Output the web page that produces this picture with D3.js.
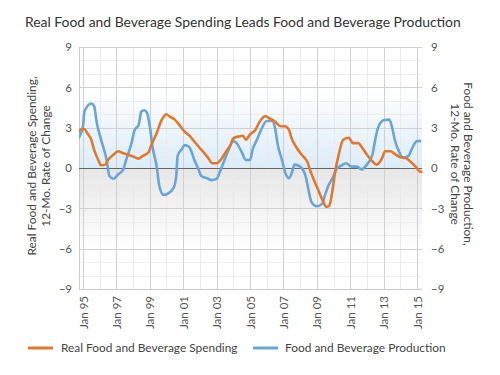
<!DOCTYPE html>
<html><head><meta charset="utf-8">
<script src="https://cdn.jsdelivr.net/npm/d3@7"></script>
<style>
body{margin:0;background:#fff;}
svg{display:block;font-family:Lato,"Open Sans",sans-serif;}
</style></head>
<body><svg id="c" width="500" height="375"></svg>
<script>
// ---- data ----
const titleText = "Real Food and Beverage Spending Leads Food and Beverage Production";
const leftTitle = ["Real Food and Beverage Spending,", "12-Mo. Rate of Change"];
const rightTitle = ["Food and Beverage Production,", "12-Mo. Rate of Change"];
const seriesNames = ["Real Food and Beverage Spending", "Food and Beverage Production"];
const yTicks = [-9, -6, -3, 0, 3, 6, 9];
const xTickYears = [1995, 1997, 1999, 2001, 2003, 2005, 2007, 2009, 2011, 2013, 2015];

const spendDates = ["1994-09","1994-11","1995-02","1995-04","1995-07","1995-09","1995-12","1996-02","1996-05","1996-07","1996-11",
 "1997-02","1997-06","1997-09","1998-01","1998-05","1998-08","1998-12","1999-02","1999-06","1999-09","2000-01","2000-03",
 "2000-07","2000-11","2001-02","2001-06","2001-08","2001-12","2002-03","2002-07","2002-10","2003-01","2003-05","2003-08",
 "2003-11","2004-01","2004-05","2004-08","2004-10","2005-01","2005-05","2005-08","2005-12","2006-03","2006-07","2006-11",
 "2007-02","2007-05","2007-07","2007-10","2008-02","2008-06","2008-09","2009-01","2009-05","2009-08","2009-10","2009-12",
 "2010-02","2010-05","2010-08","2010-12","2011-03","2011-07","2011-09","2012-01","2012-05","2012-08","2012-12","2013-02",
 "2013-06","2013-09","2014-01","2014-05","2014-08","2014-12","2015-03","2015-05"];
const spendValues = [2.5,2.85,2.9,2.6,2.1,1.35,0.6,0.2,0.25,0.6,1.0,
 1.25,1.1,1.0,0.85,0.7,0.9,1.15,1.7,2.6,3.45,4.0,3.85,
 3.6,3.1,2.7,2.35,2.1,1.6,1.25,0.75,0.35,0.35,0.75,1.25,
 1.7,2.2,2.35,2.4,2.1,2.5,2.85,3.45,3.85,3.7,3.45,3.1,
 3.1,2.85,2.2,1.6,1.0,0.5,-0.4,-1.4,-2.35,-2.9,-2.8,-1.85,
 -0.4,1.1,2.1,2.25,1.85,1.85,1.6,1.0,0.5,0.25,0.75,1.25,
 1.25,1.05,0.8,0.75,0.5,0.1,-0.25,-0.3];

const prodDates = ["1994-09","1995-01","1995-02","1995-07","1995-09","1995-11","1996-02","1996-06","1996-08","1996-11",
 "1997-02","1997-06","1997-08","1997-12","1998-02","1998-05","1998-07","1998-09","1998-11","1999-01","1999-03","1999-06",
 "1999-08","1999-11","2000-02","2000-06","2000-08","2000-09","2000-12","2001-02","2001-05","2001-07","2001-09","2001-12",
 "2002-02","2002-06","2002-09","2003-01","2003-03","2003-06","2003-09","2004-01","2004-03","2004-07","2004-10","2005-01",
 "2005-03","2005-06","2005-09","2006-01","2006-05","2006-07","2006-09","2006-12","2007-02","2007-05","2007-07","2007-09",
 "2008-01","2008-05","2008-07","2008-09","2009-01","2009-05","2009-07","2009-09","2010-01","2010-03","2010-07","2010-10",
 "2011-02","2011-06","2011-09","2012-01","2012-05","2012-07","2012-09","2013-01","2013-05","2013-07","2013-09","2013-12",
 "2014-03","2014-07","2014-09","2015-01","2015-04"];
const prodValues = [2.1,3.1,4.2,4.8,4.6,3.3,2.1,0.6,-0.6,-0.8,
 -0.5,-0.1,0.6,1.9,2.8,3.2,4.2,4.3,4.1,3.1,1.6,0.1,
 -1.4,-2.0,-1.9,-1.5,-0.6,0.9,1.4,1.7,1.6,1.2,0.6,-0.1,
 -0.6,-0.75,-0.9,-0.8,-0.4,0.4,1.2,2.0,1.9,1.2,0.6,0.6,
 1.4,2.1,2.85,3.5,3.5,3.0,1.7,0.6,-0.25,-0.75,-0.4,0.25,
 0.1,-0.6,-1.6,-2.5,-2.85,-2.65,-2.0,-1.4,-0.6,-0.1,0.2,0.35,
 0.1,0.1,-0.1,0.25,1.0,2.1,3.0,3.55,3.6,3.1,2.1,1.25,
 0.75,0.9,1.35,2.0,2.0];

const colors = ["#E0792F", "#6AA5D6"];

// ---- layout ----
const svg = d3.select("#c");
const L = 79, R = 422, T = 47, B = 289;
const parse = d3.timeParse("%Y-%m");
const x = d3.scaleTime().domain([new Date(1995,0,1), new Date(2015,0,1)]).range([83, 417]);
const y = d3.scaleLinear().domain([-9, 9]).range([B, T]);

const defs = svg.append("defs");
const gUp = defs.append("linearGradient").attr("id","gup").attr("x1",0).attr("y1",1).attr("x2",0).attr("y2",0);
gUp.append("stop").attr("offset","0%").attr("stop-color","#dcecf8");
gUp.append("stop").attr("offset","100%").attr("stop-color","#ffffff");
const gDn = defs.append("linearGradient").attr("id","gdn").attr("x1",0).attr("y1",0).attr("x2",0).attr("y2",1);
gDn.append("stop").attr("offset","0%").attr("stop-color","#e6e6e6");
gDn.append("stop").attr("offset","100%").attr("stop-color","#ffffff");
defs.append("clipPath").attr("id","clip").append("rect").attr("x",L).attr("y",T-5).attr("width",R-L+2).attr("height",B-T+10);

svg.append("rect").attr("x",L).attr("y",y(6)).attr("width",R-L).attr("height",y(0)-y(6)).attr("fill","url(#gup)");
svg.append("rect").attr("x",L).attr("y",y(0)).attr("width",R-L).attr("height",y(-6)-y(0)).attr("fill","url(#gdn)");

// minor grid
const minorY = d3.range(-9, 10, 1).filter(v => v % 3 !== 0);
svg.append("g").selectAll("line").data(minorY).join("line")
  .attr("x1",L).attr("x2",R).attr("y1",d=>Math.round(y(d))+0.5).attr("y2",d=>Math.round(y(d))+0.5)
  .attr("stroke","#eeeeee").attr("stroke-width",1);
const minorX = d3.range(1995, 2016).filter(v => (v - 1995) % 2 === 1).map(v => new Date(v,0,1));
svg.append("g").selectAll("line").data(minorX).join("line")
  .attr("x1",d=>Math.round(x(d))+0.5).attr("x2",d=>Math.round(x(d))+0.5).attr("y1",T).attr("y2",B)
  .attr("stroke","#eaeaea").attr("stroke-width",1);

// major grid
svg.append("g").selectAll("line").data(yTicks.filter(v=>v!==0)).join("line")
  .attr("x1",L).attr("x2",R).attr("y1",d=>Math.round(y(d))+0.5).attr("y2",d=>Math.round(y(d))+0.5)
  .attr("stroke","#d0d0d0").attr("stroke-width",1);
const xTickDates = xTickYears.map(v => new Date(v,0,1));
svg.append("g").selectAll("line").data(xTickDates).join("line")
  .attr("x1",d=>Math.round(x(d))+0.5).attr("x2",d=>Math.round(x(d))+0.5).attr("y1",T).attr("y2",B)
  .attr("stroke","#d0d0d0").attr("stroke-width",1);
svg.append("line").attr("x1",L+0.5).attr("x2",L+0.5).attr("y1",T).attr("y2",B).attr("stroke","#cccccc");

// axes
const yl = svg.append("g").attr("transform",`translate(${L},0)`)
  .call(d3.axisLeft(y).tickValues(yTicks).tickSize(0).tickPadding(7));
const yr = svg.append("g").attr("transform",`translate(${R},0)`)
  .call(d3.axisRight(y).tickValues(yTicks).tickSize(0).tickPadding(9));
[yl, yr].forEach(g => {
  g.select(".domain").remove();
  g.selectAll("text").attr("font-size",11.5).attr("fill","#555").attr("font-family","Lato,sans-serif");
});
const xa = svg.append("g").attr("transform",`translate(0,${B})`)
  .call(d3.axisBottom(x).tickValues(xTickDates).tickFormat(d3.timeFormat("Jan %y")).tickSize(0));
xa.select(".domain").attr("stroke","#cccccc");
xa.selectAll("text").attr("font-size",11.5).attr("fill","#555").attr("font-family","Lato,sans-serif")
  .attr("transform","rotate(-90)").attr("text-anchor","end").attr("dx",-7).attr("dy",4).attr("x",0).attr("y",0);

// zero line
svg.append("line").attr("x1",L).attr("x2",R).attr("y1",Math.round(y(0))+0.5).attr("y2",Math.round(y(0))+0.5)
  .attr("stroke","#666").attr("stroke-width",1);

// lines
const line = d3.line().x(d=>x(d[0])).y(d=>y(d[1])).curve(d3.curveMonotoneX);
const spend = spendDates.map((d,i)=>[parse(d), spendValues[i]]);
const prod = prodDates.map((d,i)=>[parse(d), prodValues[i]]);
const lg = svg.append("g").attr("clip-path","url(#clip)");
lg.append("path").datum(prod).attr("d",line).attr("fill","none").attr("stroke",colors[1]).attr("stroke-width",2.6).attr("stroke-linejoin","round");
lg.append("path").datum(spend).attr("d",line).attr("fill","none").attr("stroke",colors[0]).attr("stroke-width",2.6).attr("stroke-linejoin","round");

// titles
svg.append("text").attr("x",25).attr("y",27).attr("font-size",13.9).attr("fill","#333").text(titleText);
const lt = svg.append("text").attr("transform",`translate(36,${y(0)-2}) rotate(-90)`).attr("text-anchor","middle")
  .attr("font-size",11.9).attr("fill","#444");
lt.selectAll("tspan").data(leftTitle).join("tspan").attr("x",0).attr("dy",(d,i)=>i?13.5:0).text(d=>d);
const rt = svg.append("text").attr("transform",`translate(464,${y(0)-4}) rotate(90)`).attr("text-anchor","middle")
  .attr("font-size",11.9).attr("fill","#444");
rt.selectAll("tspan").data(rightTitle).join("tspan").attr("x",0).attr("dy",(d,i)=>i?13.5:0).text(d=>d);

// legend
const leg = svg.append("g");
const legPos = [[28,61],[253,285]];
seriesNames.forEach((n,i)=>{
  leg.append("line").attr("x1",legPos[i][0]).attr("x2",legPos[i][0]+25).attr("y1",348).attr("y2",348)
    .attr("stroke",colors[i]).attr("stroke-width",3);
  leg.append("text").attr("x",legPos[i][1]).attr("y",352).attr("font-size",11.9).attr("fill","#444").text(n);
});
</script></body></html>
